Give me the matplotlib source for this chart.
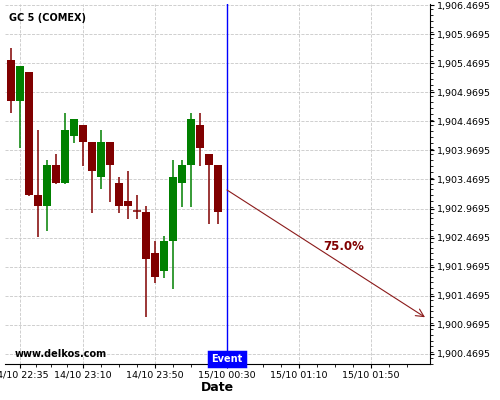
import matplotlib
matplotlib.use('Agg')
import matplotlib.pyplot as plt
import matplotlib.dates as mdates
from matplotlib.ticker import FixedLocator, FuncFormatter, MultipleLocator
from datetime import datetime, timedelta

# --- candle data (5 minute bars)
start = datetime(2020, 10, 14, 22, 30)
opens = [1905.524, 1904.824, 1905.318, 1903.203, 1903.019, 1903.719, 1903.410, 1904.217,
         1904.406, 1904.114, 1903.518, 1904.114, 1903.410, 1903.100, 1902.923, 1902.911,
         1902.206, 1901.902, 1902.412, 1903.410, 1903.719, 1904.406, 1903.908, 1903.719]
closes = [1904.824, 1905.421, 1903.203, 1903.019, 1903.719, 1903.410, 1904.321, 1904.510,
          1904.119, 1903.616, 1904.114, 1903.719, 1903.019, 1903.019, 1902.923, 1902.108,
          1901.799, 1902.412, 1903.513, 1903.719, 1904.510, 1904.016, 1903.719, 1902.911]
highs = [1905.730, 1905.421, 1905.318, 1904.321, 1903.805, 1903.908, 1904.613, 1904.510,
         1904.406, 1904.114, 1904.321, 1904.114, 1903.507, 1903.611, 1903.203, 1903.014,
         1902.407, 1902.498, 1903.800, 1903.800, 1904.608, 1904.608, 1903.908, 1903.719]
lows = [1904.613, 1904.011, 1903.190, 1902.486, 1902.589, 1903.400, 1903.400, 1904.102,
        1903.707, 1902.899, 1903.301, 1903.088, 1902.899, 1902.796, 1902.796, 1901.101,
        1901.696, 1901.781, 1901.592, 1903.002, 1903.002, 1903.707, 1902.699, 1902.699]
times = [start + timedelta(minutes=5 * i) for i in range(len(opens))]

event_time = datetime(2020, 10, 15, 0, 30)
arrow_start = (event_time, 1903.289)
arrow_end = (datetime(2020, 10, 15, 2, 20), 1901.101)
prob_label = '75.0%'

xticks = [datetime(2020, 10, 14, 22, 35), datetime(2020, 10, 14, 23, 10),
          datetime(2020, 10, 14, 23, 50), datetime(2020, 10, 15, 0, 30),
          datetime(2020, 10, 15, 1, 10), datetime(2020, 10, 15, 1, 50)]
yticks = [1900.4695 + 0.5 * k for k in range(13)]

red = '#800000'
green = '#008000'

fig = plt.figure(figsize=(5, 4), dpi=100)
ax = fig.add_axes([0.01, 0.09, 0.85, 0.90])

width = 3.9 / 1440
for t, o, c, h, l in zip(times, opens, closes, highs, lows):
    col = green if c > o else red
    x = mdates.date2num(t)
    ax.vlines(x, l, h, color=col, lw=1.1, zorder=3)
    if abs(c - o) < 0.02:
        ax.hlines(o, x - width / 2, x + width / 2, color=col, lw=1.1, zorder=3)
    else:
        ax.bar(x, c - o, bottom=o, width=width, color=col, zorder=3, linewidth=0)

# event line + projection arrow
ax.axvline(mdates.date2num(event_time), color='blue', lw=1, zorder=4)
ax.annotate('', xy=(mdates.date2num(arrow_end[0]), arrow_end[1]),
            xytext=(mdates.date2num(arrow_start[0]), arrow_start[1]),
            arrowprops=dict(arrowstyle='->', color='#8b1a1a', lw=0.8,
                            shrinkA=0, shrinkB=0, mutation_scale=14), zorder=5)
mid_x = mdates.date2num(datetime(2020, 10, 15, 1, 35))
ax.text(mid_x, 1902.20, prob_label, color=red, fontsize=8.5, fontweight='bold',
        ha='center', va='bottom')

ax.set_xlim(mdates.date2num(datetime(2020, 10, 14, 22, 26, 40)),
            mdates.date2num(datetime(2020, 10, 15, 2, 22, 47)))
ax.set_ylim(1900.297, 1906.487)

# axes styling
for s in ['left', 'top']:
    ax.spines[s].set_visible(False)
ax.yaxis.tick_right()
ax.yaxis.set_major_locator(FixedLocator(yticks))
ax.yaxis.set_minor_locator(MultipleLocator(0.1))
ax.yaxis.set_major_formatter(FuncFormatter(lambda v, p: f'{v:,.4f}'))
xt = [mdates.date2num(t) for t in xticks]
ax.xaxis.set_major_locator(FixedLocator(xt))
minors = []
for a, b in zip(xt[:-1], xt[1:]):
    minors += [a + (b - a) * k / 4 for k in range(1, 4)]
step = (xt[-1] - xt[-2]) / 4
minors += [xt[0] - step, xt[-1] + step, xt[-1] + 2 * step]
ax.xaxis.set_minor_locator(FixedLocator(minors))
ax.xaxis.set_major_formatter(mdates.DateFormatter('%d/%m %H:%M'))
ax.tick_params(labelsize=6.8, length=3, pad=2)
ax.tick_params(which='minor', length=2)
ax.grid(True, color='#c8c8c8', ls='--', lw=0.6)

ax.set_xlabel('Date', fontsize=9, fontweight='bold', labelpad=1)

ax.text(0.01, 0.975, 'GC 5 (COMEX)', transform=ax.transAxes, fontsize=7,
        fontweight='bold', va='top', ha='left')
ax.text(0.022, 0.028, 'www.delkos.com', transform=ax.transAxes, fontsize=7,
        fontweight='bold', va='center', ha='left')
ax.text(mdates.date2num(event_time), 0.0, 'Event', transform=ax.get_xaxis_transform(),
        fontsize=7, fontweight='bold', color='white', ha='center', va='bottom',
        bbox=dict(boxstyle='square,pad=0.25', fc='blue', ec='blue', lw=2.5), zorder=6)

fig.savefig('out.png', dpi=100)
